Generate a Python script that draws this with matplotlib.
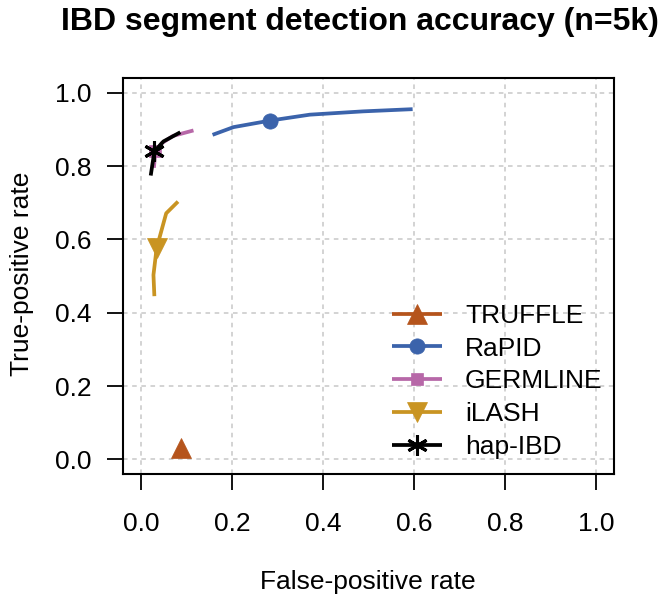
import matplotlib
matplotlib.use("Agg")
import matplotlib.pyplot as plt

plt.rcParams['font.family'] = ['Liberation Sans', 'DejaVu Sans']

# Data
truffle_x = [0.088]
truffle_y = [0.030]
truffle_mark = [0]

rapid_x = [0.157, 0.203, 0.284, 0.371, 0.488, 0.597]
rapid_y = [0.885, 0.906, 0.924, 0.940, 0.949, 0.955]
rapid_mark = [2]

germline_x = [0.028, 0.031, 0.045, 0.070, 0.115]
germline_y = [0.795, 0.840, 0.862, 0.882, 0.897]
germline_mark = [1]

ilash_x = [0.029, 0.027, 0.034, 0.055, 0.081]
ilash_y = [0.445, 0.503, 0.576, 0.671, 0.703]
ilash_mark = [2]

hapibd_x = [0.021, 0.029, 0.049, 0.086]
hapibd_y = [0.774, 0.840, 0.867, 0.892]
hapibd_mark = [1]

names = ["TRUFFLE", "RaPID", "GERMLINE", "iLASH", "hap-IBD"]
colors = ["#B5541C", "#3B63AB", "#B768A8", "#C99422", "#000000"]
markers = ["^", "o", "s", "v", (6, 2, 0)]
msizes = [14, 11, 9, 14, 15]

ticks = [0.0, 0.2, 0.4, 0.6, 0.8, 1.0]
tick_labels = ["0.0", "0.2", "0.4", "0.6", "0.8", "1.0"]

fig = plt.figure(figsize=(6.66, 6.03), dpi=100)
ax = fig.add_axes([123/666, 1-474/603, (614-123)/666, (474-78)/603])

series = [(truffle_x, truffle_y, truffle_mark),
          (rapid_x, rapid_y, rapid_mark),
          (germline_x, germline_y, germline_mark),
          (ilash_x, ilash_y, ilash_mark),
          (hapibd_x, hapibd_y, hapibd_mark)]

for (xs, ys, mk), name, c, m, ms in zip(series, names, colors, markers, msizes):
    ax.plot(xs, ys, color=c, lw=2.7, marker=m, markevery=mk, ms=ms,
            mew=2.2 if name == "hap-IBD" else 0.5, mec=c, mfc=c, label=name,
            solid_capstyle='butt', zorder=3)

ax.set_xlim(-0.04, 1.04)
ax.set_ylim(-0.04, 1.04)
ax.set_xticks(ticks)
ax.set_xticklabels(tick_labels)
ax.set_yticks(ticks)
ax.set_yticklabels(tick_labels)
ax.grid(True, color="#C8C8C8", linestyle=(0, (3, 3)), lw=1.1)
ax.set_axisbelow(True)
for s in ax.spines.values():
    s.set_linewidth(1.5)
ax.tick_params(axis='both', direction='out', length=11.5, width=1.3,
               labelsize=19)
ax.tick_params(axis='x', pad=16)
ax.tick_params(axis='y', pad=11)

fig.text(368/666, 1-582/603, "False-positive rate", fontsize=19,
         ha='center', va='center')
fig.text(22/666, 1-274/603, "True-positive rate", fontsize=19,
         ha='center', va='center', rotation=90)

fig.text(360/666, 1-30/603, "IBD segment detection accuracy (n=5k)",
         ha='center', va='baseline', fontsize=23, fontweight='bold')

leg = ax.legend(loc='upper left', bbox_to_anchor=(392/666, 1-304/603),
                bbox_transform=fig.transFigure, frameon=False,
                fontsize=19, handlelength=1.9, handletextpad=0.87,
                labelspacing=0.33, borderaxespad=0, borderpad=0)

fig.savefig("out.png", dpi=100)
